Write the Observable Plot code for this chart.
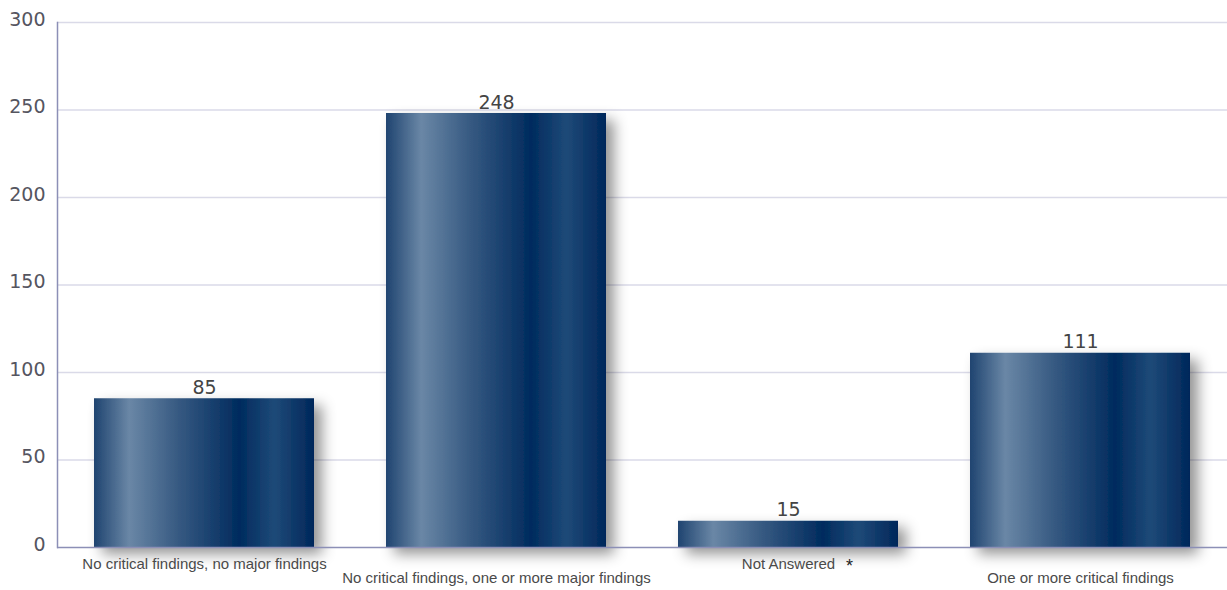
<!DOCTYPE html>
<html>
<head>
<meta charset="utf-8">
<script src="https://cdn.jsdelivr.net/npm/d3@7"></script>
<script src="https://cdn.jsdelivr.net/npm/@observablehq/plot@0.6"></script>
<style>
  html, body { margin: 0; padding: 0; background: #fff; }
  svg { display: block; }
</style>
</head>
<body>
<div id="chart"></div>
<script>
// Audit outcome categories and their counts
const categories = [
  "No critical findings, no major findings",
  "No critical findings, one or more major findings",
  "Not Answered",
  "One or more critical findings"
];
const counts = [85, 248, 15, 111];
const yTicks = [0, 50, 100, 150, 200, 250, 300];
const footnoteCategory = "Not Answered";

const rows = categories.map((c, i) => ({category: c, count: counts[i], row: i % 2}));

// Horizontal "cylinder" shading used for every bar, plus a soft drop shadow
const defs = () => {
  const d = d3.create("svg:defs");
  const g = d.append("linearGradient").attr("id", "barShade")
    .attr("x1", "0").attr("x2", "1").attr("y1", "0").attr("y2", "0");
  [
    [0.00, "#1f4470"],
    [0.16, "#6a87a6"],
    [0.38, "#375a82"],
    [0.66, "#002b5e"],
    [0.82, "#1e4a78"],
    [1.00, "#00275a"]
  ].forEach(([o, c]) => g.append("stop").attr("offset", o).attr("stop-color", c));
  const f = d.append("filter").attr("id", "barShadow")
    .attr("x", "-10%").attr("y", "-10%").attr("width", "135%").attr("height", "135%");
  f.append("feDropShadow").attr("dx", 8).attr("dy", 7).attr("stdDeviation", 7)
    .attr("flood-color", "#000").attr("flood-opacity", 0.42);
  return d.node();
};

const numFont = "'DejaVu Sans', Verdana, sans-serif";
const labelFont = "'Liberation Sans', Arial, sans-serif";

const chart = Plot.plot({
  width: 1227,
  height: 590,
  marginLeft: 57,
  marginRight: 0,
  marginTop: 22,
  marginBottom: 43,
  style: {fontFamily: labelFont, background: "#fff"},
  x: {domain: categories, paddingInner: 0.248, paddingOuter: 0.124, align: 0.5},
  y: {domain: [0, 300], ticks: yTicks},
  marks: [
    defs,
    Plot.gridY(yTicks.filter(t => t > 0), {stroke: "#dadae8", strokeOpacity: 1, strokeWidth: 1.3}),
    Plot.barY(rows, {x: "category", y: "count", fill: "url(#barShade)"}),
    Plot.ruleY([0], {stroke: "#8c8fb6", strokeWidth: 1.5}),
    Plot.frame({anchor: "left", stroke: "#8c8fb6", strokeWidth: 1.5}),
    Plot.axisY({ticks: yTicks, tickSize: 0, tickPadding: 12, fontSize: 19, dy: -3,
      fontFamily: numFont, fill: "#555560", label: null}),
    Plot.axisX({ticks: [], label: null, tickSize: 0}),
    // value labels above bars
    Plot.text(rows, {x: "category", y: "count", text: d => String(d.count),
      lineAnchor: "bottom", dy: -5, fontSize: 19, fontFamily: numFont, fill: "#444"}),
    // staggered category labels
    Plot.text(rows, {x: "category", text: "category", frameAnchor: "bottom",
      fontSize: 15, fill: "#4a4a4a", filter: d => d.row === 0, dy: 21}),
    Plot.text(rows, {x: "category", text: "category", frameAnchor: "bottom",
      fontSize: 15, fill: "#4a4a4a", filter: d => d.row === 1, dy: 35}),
    // footnote marker next to the unanswered category
    Plot.text([footnoteCategory], {x: d => d, text: () => "*", frameAnchor: "bottom",
      dx: 61, dy: 24, fontSize: 18, fill: "#222"})
  ]
});

d3.select(chart).select("g[aria-label=bar]").attr("filter", "url(#barShadow)");
document.getElementById("chart").append(chart);
</script>
</body>
</html>
